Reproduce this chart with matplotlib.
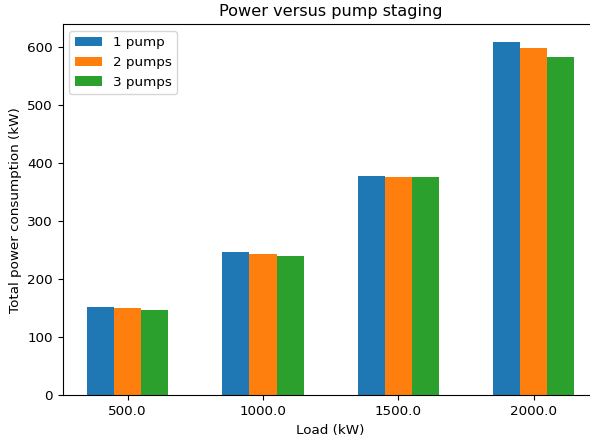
import numpy as np
import matplotlib
matplotlib.use("Agg")
import matplotlib.pyplot as plt

# load levels and total power for each pump staging option
loads = [500.0, 1000.0, 1500.0, 2000.0]
power_1pump = [153, 247, 378, 609]
power_2pumps = [150, 243, 377, 598]
power_3pumps = [147, 240, 376, 583]
series_labels = ["1 pump", "2 pumps", "3 pumps"]

plt.rcParams["font.size"] = 9.7

width = 100
x = np.array(loads)

fig = plt.figure(figsize=(5.9, 4.38), dpi=100)
ax = fig.add_axes([62.7 / 590, 42.7 / 438, 536.0 / 590, 371.0 / 438])

ax.bar(x - width, power_1pump, width, label=series_labels[0])
ax.bar(x, power_2pumps, width, label=series_labels[1])
ax.bar(x + width, power_3pumps, width, label=series_labels[2])

ax.set_xticks(x)
ax.set_xticklabels([str(v) for v in loads])
ax.set_xlabel("Load (kW)")
ax.set_ylabel("Total power consumption (kW)")
ax.set_title("Power versus pump staging", fontsize=11.6)
ax.legend(loc="upper left")

fig.savefig("out.png", dpi=100)
